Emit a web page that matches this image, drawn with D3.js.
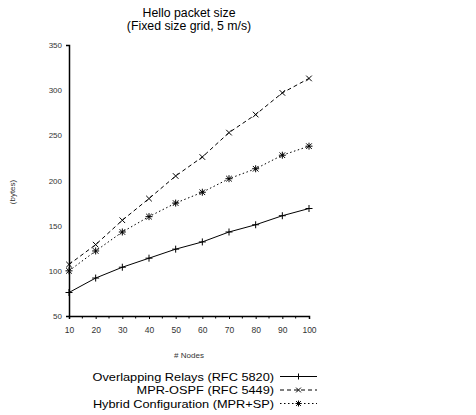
<!DOCTYPE html>
<html><head><meta charset="utf-8">
<script src="https://cdn.jsdelivr.net/npm/d3@7"></script>
<style>body{margin:0;background:#fff}svg{display:block;font-family:"Liberation Sans",Arial,sans-serif}</style>
</head><body><svg id="c" width="476" height="415"></svg>
<script>
const nodes = [10,20,30,40,50,60,70,80,90,100];
const overlapping = [76,92,104,114,124,132,143,151,161,169];
const mprOspf = [107,129,156,180,205,226,253,273,297,313];
const hybrid = [100,122,143,160,175,187,202,213,228,238];
const yTicks = [50,100,150,200,250,300,350];
const seriesNames = ["Overlapping Relays (RFC 5820)","MPR-OSPF (RFC 5449)","Hybrid Configuration (MPR+SP)"];

const svg = d3.select("#c");
const x = d3.scaleLinear().domain([10,100]).range([69,309]);
const y = d3.scaleLinear().domain([50,350]).range([316,45]);

svg.append("text").attr("x",189).attr("y",17).attr("text-anchor","middle").attr("font-size",12.3).text("Hello packet size");
svg.append("text").attr("x",189).attr("y",29.5).attr("text-anchor","middle").attr("font-size",12.3).text("(Fixed size grid, 5 m/s)");

const ya = svg.append("g").attr("transform","translate(69,0)")
  .call(d3.axisLeft(y).tickValues(yTicks).tickSizeInner(0).tickSizeOuter(3).tickPadding(7));
ya.selectAll("text").attr("font-size",8).attr("fill","#333").attr("font-family","Liberation Sans, Arial");
ya.select(".domain").attr("stroke","#000").attr("stroke-width",1.5);

const xa = svg.append("g").attr("transform","translate(0,316)")
  .call(d3.axisBottom(x).tickValues(nodes).tickSize(3).tickPadding(8));
xa.selectAll("text").attr("font-size",8.5).attr("fill","#333").attr("font-family","Liberation Sans, Arial");
xa.select(".domain").attr("stroke","#000").attr("stroke-width",1.5);
const minor = d3.range(15,100,10);
svg.append("g").selectAll("line").data(minor).join("line")
  .attr("x1",d=>x(d)).attr("x2",d=>x(d)).attr("y1",316).attr("y2",318.5).attr("stroke","#000");

svg.append("text").attr("x",189).attr("y",358).attr("text-anchor","middle").attr("font-size",8).attr("fill","#333").text("# Nodes");
svg.append("text").attr("transform","translate(15,192) rotate(-90)").attr("text-anchor","middle").attr("font-size",8).attr("fill","#333").text("(bytes)");

function marker(g, type, cx, cy, s){
  const r = s;
  if(type==="plus"||type==="star"){
    g.append("line").attr("x1",cx-r).attr("x2",cx+r).attr("y1",cy).attr("y2",cy).attr("stroke","#000");
    g.append("line").attr("x1",cx).attr("x2",cx).attr("y1",cy-r).attr("y2",cy+r).attr("stroke","#000");
  }
  if(type==="cross"||type==="star"){
    const k = r*0.8;
    g.append("line").attr("x1",cx-k).attr("x2",cx+k).attr("y1",cy-k).attr("y2",cy+k).attr("stroke","#000");
    g.append("line").attr("x1",cx-k).attr("x2",cx+k).attr("y1",cy+k).attr("y2",cy-k).attr("stroke","#000");
  }
}

const series = [
  {vals:overlapping, dash:null, m:"plus"},
  {vals:mprOspf, dash:"4,3", m:"cross"},
  {vals:hybrid, dash:"1.5,2.5", m:"star"}
];
const line = d3.line().x((d,i)=>x(nodes[i])).y(d=>y(d));
series.forEach(s=>{
  svg.append("path").attr("d",line(s.vals)).attr("fill","none").attr("stroke","#000").attr("stroke-width",1)
    .attr("stroke-dasharray",s.dash);
  const g = svg.append("g");
  s.vals.forEach((v,i)=>marker(g,s.m,x(nodes[i]),y(v),3.5));
});

// legend
series.forEach((s,i)=>{
  const ly = 376.5 + i*13.5;
  svg.append("text").attr("transform",`translate(274,${ly+4.2}) scale(1.1,1)`).attr("text-anchor","end").attr("font-size",11.6).text(seriesNames[i]);
  svg.append("line").attr("x1",280).attr("x2",317).attr("y1",ly).attr("y2",ly).attr("stroke","#000").attr("stroke-dasharray",s.dash);
  marker(svg.append("g"),s.m,298.5,ly,3);
});
</script></body></html>
